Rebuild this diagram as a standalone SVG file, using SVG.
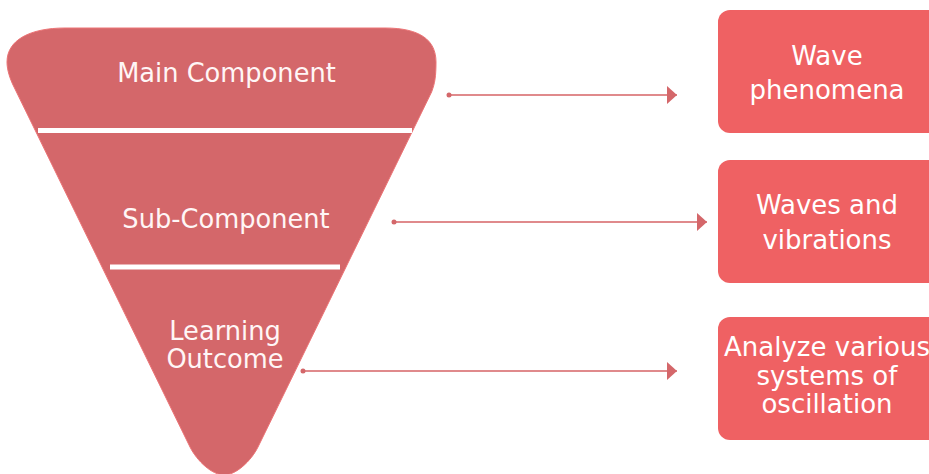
<svg xmlns="http://www.w3.org/2000/svg" width="929" height="474" viewBox="0 0 929 474">
  <defs>
    <style>
      .funnel { fill: #D4676A; stroke: #EC7476; stroke-width: 1; }
      .sep { stroke: #FFFFFF; stroke-width: 5; }
      .ftext { font-family: "DejaVu Sans", Verdana, sans-serif; font-size: 25.7px; fill: #FFF6F6; text-anchor: middle; }
      .box { fill: #EF6163; }
      .btext { font-family: "DejaVu Sans", Verdana, sans-serif; font-size: 26px; fill: #FFFFFF; text-anchor: middle; }
      .conn { stroke: #E08A8C; stroke-width: 2; fill: none; }
      .dot { fill: #D4676A; }
    </style>
    <marker id="arrow" viewBox="0 0 10 18" refX="10" refY="9" markerWidth="10" markerHeight="18" markerUnits="userSpaceOnUse" orient="auto">
      <path d="M0,0 L10,9 L0,18 Z" fill="#D4676A"/>
    </marker>
  </defs>
  <rect width="929" height="474" fill="#FFFFFF"/>

  <g id="funnel">
    <path class="funnel" d="M 65,28 H 385 C 420,28 436,40 436,62 C 436,76 435,83 431.6,92 L 258,447 C 251,461 236,475 224,475 C 212,475 197,461 190,447 L 14,87 C 10,79 7,70 7,62 C 7,40 30,28 65,28 Z"/>
    <line class="sep" x1="38" y1="130.5" x2="412" y2="130.5"/>
    <line class="sep" x1="110" y1="267" x2="340" y2="267"/>
  </g>

  <g id="main-component">
    <text class="ftext" x="226.5" y="82">Main Component</text>
  </g>
  <g id="sub-component">
    <text class="ftext" x="226" y="228">Sub-Component</text>
  </g>
  <g id="learning-outcome">
    <text class="ftext" x="225" y="340">Learning</text>
    <text class="ftext" x="225" y="368">Outcome</text>
  </g>

  <g id="box-wave-phenomena">
    <rect class="box" x="718" y="10" width="224" height="123" rx="12"/>
    <text class="btext" x="827" y="65">Wave</text>
    <text class="btext" x="827" y="99">phenomena</text>
  </g>
  <g id="box-waves-vibrations">
    <rect class="box" x="718" y="160" width="224" height="123" rx="12"/>
    <text class="btext" x="827" y="214">Waves and</text>
    <text class="btext" x="827" y="249">vibrations</text>
  </g>
  <g id="box-analyze">
    <rect class="box" x="718" y="317" width="224" height="123" rx="12"/>
    <text class="btext" x="827" y="356">Analyze various</text>
    <text class="btext" x="827" y="385">systems of</text>
    <text class="btext" x="827" y="413">oscillation</text>
  </g>

  <g id="connectors">
    <line class="conn" x1="449" y1="95" x2="677" y2="95" marker-end="url(#arrow)"/>
    <circle class="dot" cx="449" cy="95" r="2.5"/>
    <line class="conn" x1="394" y1="222" x2="707" y2="222" marker-end="url(#arrow)"/>
    <circle class="dot" cx="394" cy="222" r="2.5"/>
    <line class="conn" x1="303" y1="371" x2="677" y2="371" marker-end="url(#arrow)"/>
    <circle class="dot" cx="303" cy="371" r="2.5"/>
  </g>
</svg>
